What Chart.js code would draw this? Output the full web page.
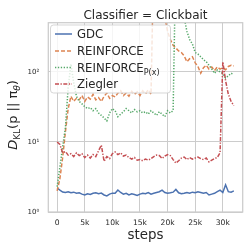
<!DOCTYPE html>
<html>
<head>
<meta charset="utf-8">
<script src="https://cdn.jsdelivr.net/npm/chart.js@4.4.1/dist/chart.umd.min.js"></script>
<style>
html, body { margin: 0; padding: 0; background: #fff; }
#wrap { width: 251px; height: 251px; }
</style>
</head>
<body>
<div id="wrap"><canvas id="klChart" width="251" height="251"></canvas></div>
<script>
const steps = [
  0, 500, 1000, 1500, 2000, 2500, 3000, 3500, 4000, 4500,
  5000, 5500, 6000, 6500, 7000, 7500, 8000, 8500, 9000, 9500,
  10000, 10500, 11000, 11500, 12000, 12500, 13000, 13500, 14000, 14500,
  15000, 15500, 16000, 16500, 17000, 17500, 18000, 18500, 19000, 19500,
  20000, 20500, 21000, 21500, 22000, 22500, 23000, 23500, 24000, 24500,
  25000, 25500, 26000, 26500, 27000, 27500, 28000, 28500, 29000, 29500,
  30000, 30500, 31000, 31500, 32000
];
const gdc = [
  2.2, 2.05, 1.93, 1.9, 1.95, 1.88, 1.92, 1.85, 1.88, 1.8,
  1.75, 1.82, 1.78, 1.85, 1.88, 1.82, 1.86, 1.75, 1.7, 1.8,
  1.86, 1.85, 2.06, 1.9, 1.8, 1.85, 1.75, 1.82, 1.78, 1.72,
  1.8, 1.85, 1.82, 1.9, 1.8, 1.85, 1.9, 1.95, 2.05, 1.9,
  1.85, 1.88, 1.92, 2.1, 1.88, 1.82, 1.85, 1.9, 1.85, 1.92,
  1.88, 1.95, 1.9, 1.85, 1.9, 1.75, 1.8, 1.85, 1.95, 2.05,
  1.9, 2.45, 1.95, 1.92, 2.0
];
const reinforce = [
  2, 3, 6, 14, 30, 45, 38, 42, 40, 46,
  38, 44, 41, 48, 40, 43, 38, 45, 50, 42,
  46, 44, 50, 54, 46, 50, 45, 53, 48, 52,
  46, 54, 49, 56, 48, 5000, 5000, 5000, 5000, 600,
  380, 290, 240, 220, 200, 190, 170, 140, 155, 165,
  135, 120, 96, 115, 125, 110, 118, 105, 118, 110,
  115, 108, 120, 125, 122
];
const reinforcePx = [
  2.3, 4.4, 8.5, 16, 60, 130, 70, 45, 38, 35,
  32, 30, 31, 28, 30, 26, 24, 22, 20, 26,
  30, 28, 23, 25, 27, 30, 28, 26, 29, 27,
  28, 26, 27, 25, 28, 26, 24, 27, 25, 23,
  28, 26, 28, 5000, 5000, 5000, 600, 380, 290, 250,
  190, 180, 165, 150, 140, 125, 110, 96, 107, 100,
  95, 82, 88, 96, 92
];
const ziegler = [
  10, 9.2, 7, 7.3, 6.5, 6.8, 6.2, 7, 6.4, 6.8,
  6, 6.5, 5.9, 6.6, 6.2, 7.5, 9, 5.3, 6.2, 5.8,
  6.8, 7.2, 6.6, 7, 6.3, 6.5, 6, 5.7, 6, 5.5,
  5.6, 5.4, 5.7, 5.5, 5.8, 6.2, 6.5, 6.4, 5.8, 6.3,
  6.6, 6.4, 5.6, 5, 5.4, 5.9, 6.1, 5.6, 6, 5.7,
  5.9, 6.1, 5.8, 5.6, 5.9, 5.2, 5.5, 5.8, 6, 7,
  140, 75, 48, 38, 33
];
const xTicks = [0, 5000, 10000, 15000, 20000, 25000, 30000];
const xTickLabels = ["0", "5k", "10k", "15k", "20k", "25k", "30k"];
const yTicks = [1, 10, 100];
const yTickLabels = ["10\u2070", "10\u00b9", "10\u00b2"];

const FONT = "'DejaVu Sans', sans-serif";
const INK = "#262626";
const GRID = "#cccccc";

const series = [
  { name: "GDC", sub: "", values: gdc, color: "#4c72b0", dash: [] },
  { name: "REINFORCE", sub: "", values: reinforce, color: "#dd8452", dash: [4, 2] },
  { name: "REINFORCE", sub: "P(x)", values: reinforcePx, color: "#55a868", dash: [1.3, 1.6] },
  { name: "Ziegler", sub: "", values: ziegler, color: "#c44e52", dash: [4, 1.5, 1.3, 1.5] }
];

function toPoints(values) {
  return values.map((v, i) => ({ x: steps[i], y: v }));
}

// draws a run of text pieces, some of them subscripts, starting at x
function drawPieces(ctx, pieces, x, y) {
  pieces.forEach(p => {
    ctx.font = p.font;
    ctx.fillText(p.t, x, y + (p.dy || 0));
    x += ctx.measureText(p.t).width;
  });
}

function piecesWidth(ctx, pieces) {
  return pieces.reduce((w, p) => {
    ctx.font = p.font;
    return w + ctx.measureText(p.t).width;
  }, 0);
}

const decorPlugin = {
  id: "decor",
  afterDatasetsDraw(chart) {
    const { ctx, chartArea: a } = chart;
    ctx.save();

    // frame
    ctx.strokeStyle = GRID;
    ctx.lineWidth = 1.25;
    ctx.strokeRect(a.left, a.top, a.right - a.left, a.bottom - a.top);

    // legend
    const lx = 50.5, ly = 25, lw = 120, lh = 68;
    ctx.beginPath();
    if (ctx.roundRect) ctx.roundRect(lx, ly, lw, lh, 3);
    else ctx.rect(lx, ly, lw, lh);
    ctx.fillStyle = "rgba(255,255,255,0.8)";
    ctx.fill();
    ctx.strokeStyle = "rgba(204,204,204,0.8)";
    ctx.lineWidth = 1;
    ctx.stroke();

    const rows = [34, 51, 67.5, 84];
    series.forEach((s, i) => {
      const y = rows[i];
      ctx.strokeStyle = s.color;
      ctx.lineWidth = 1.5;
      ctx.setLineDash(s.dash);
      ctx.beginPath();
      ctx.moveTo(55, y);
      ctx.lineTo(72, y);
      ctx.stroke();
      ctx.setLineDash([]);
      ctx.fillStyle = INK;
      ctx.textBaseline = "alphabetic";
      ctx.textAlign = "left";
      const pieces = [{ t: s.name, font: "11.7px " + FONT }];
      if (s.sub) pieces.push({ t: s.sub, font: "8px " + FONT, dy: 3 });
      drawPieces(ctx, pieces, 77, y + 4.3);
    });
    ctx.restore();
  },
  afterDraw(chart) {
    const { ctx, chartArea: a } = chart;
    ctx.save();
    ctx.fillStyle = INK;
    ctx.textBaseline = "alphabetic";

    // title
    ctx.textAlign = "center";
    ctx.font = "12px " + FONT;
    ctx.fillText("Classifier = Clickbait", (a.left + a.right) / 2, 18.5);

    // x label
    ctx.font = "13.4px " + FONT;
    ctx.fillText("steps", (a.left + a.right) / 2, 239);

    // y label, rotated, with subscripts
    ctx.textAlign = "left";
    const pieces = [
      { t: "D", font: "italic 13px " + FONT },
      { t: "KL", font: "9px " + FONT, dy: 3 },
      { t: "(p || \u03c0", font: "13px " + FONT },
      { t: "\u03b8", font: "italic 9px " + FONT, dy: 3 },
      { t: ")", font: "13px " + FONT }
    ];
    ctx.translate(17, 115);
    ctx.rotate(-Math.PI / 2);
    drawPieces(ctx, pieces, -piecesWidth(ctx, pieces) / 2, 0);
    ctx.restore();
  }
};

const ctx = document.getElementById("klChart").getContext("2d");

new Chart(ctx, {
  type: "line",
  data: {
    datasets: series.map((s, i) => ({
      label: s.name + s.sub,
      data: toPoints(s.values),
      borderColor: s.color,
      borderWidth: 1.5,
      borderDash: s.dash,
      pointRadius: 0,
      fill: false,
      tension: 0,
      order: series.length - i
    }))
  },
  options: {
    responsive: false,
    animation: false,
    layout: { padding: { top: 22.7, right: 8.3, left: 0, bottom: 0 } },
    plugins: {
      legend: { display: false },
      title: { display: false },
      tooltip: { enabled: false }
    },
    scales: {
      x: {
        type: "linear",
        min: -1600,
        max: 33600,
        afterBuildTicks: axis => { axis.ticks = xTicks.map(v => ({ value: v })); },
        afterFit: scale => { scale.height = 39; },
        grid: { color: GRID, lineWidth: 1, drawTicks: false },
        border: { display: false },
        ticks: {
          padding: 6,
          color: INK,
          font: { family: FONT, size: 7.6 },
          maxRotation: 0,
          callback: (v) => xTickLabels[xTicks.indexOf(v)]
        }
      },
      y: {
        type: "logarithmic",
        min: 1,
        max: 506,
        afterBuildTicks: axis => { axis.ticks = yTicks.map(v => ({ value: v })); },
        afterFit: scale => { scale.width = 48.3; },
        grid: { color: GRID, lineWidth: 1, drawTicks: false },
        border: { display: false },
        ticks: {
          padding: 9,
          color: INK,
          font: { family: FONT, size: 7 },
          callback: (v) => yTickLabels[yTicks.indexOf(v)]
        }
      }
    }
  },
  plugins: [decorPlugin]
});
</script>
</body>
</html>
